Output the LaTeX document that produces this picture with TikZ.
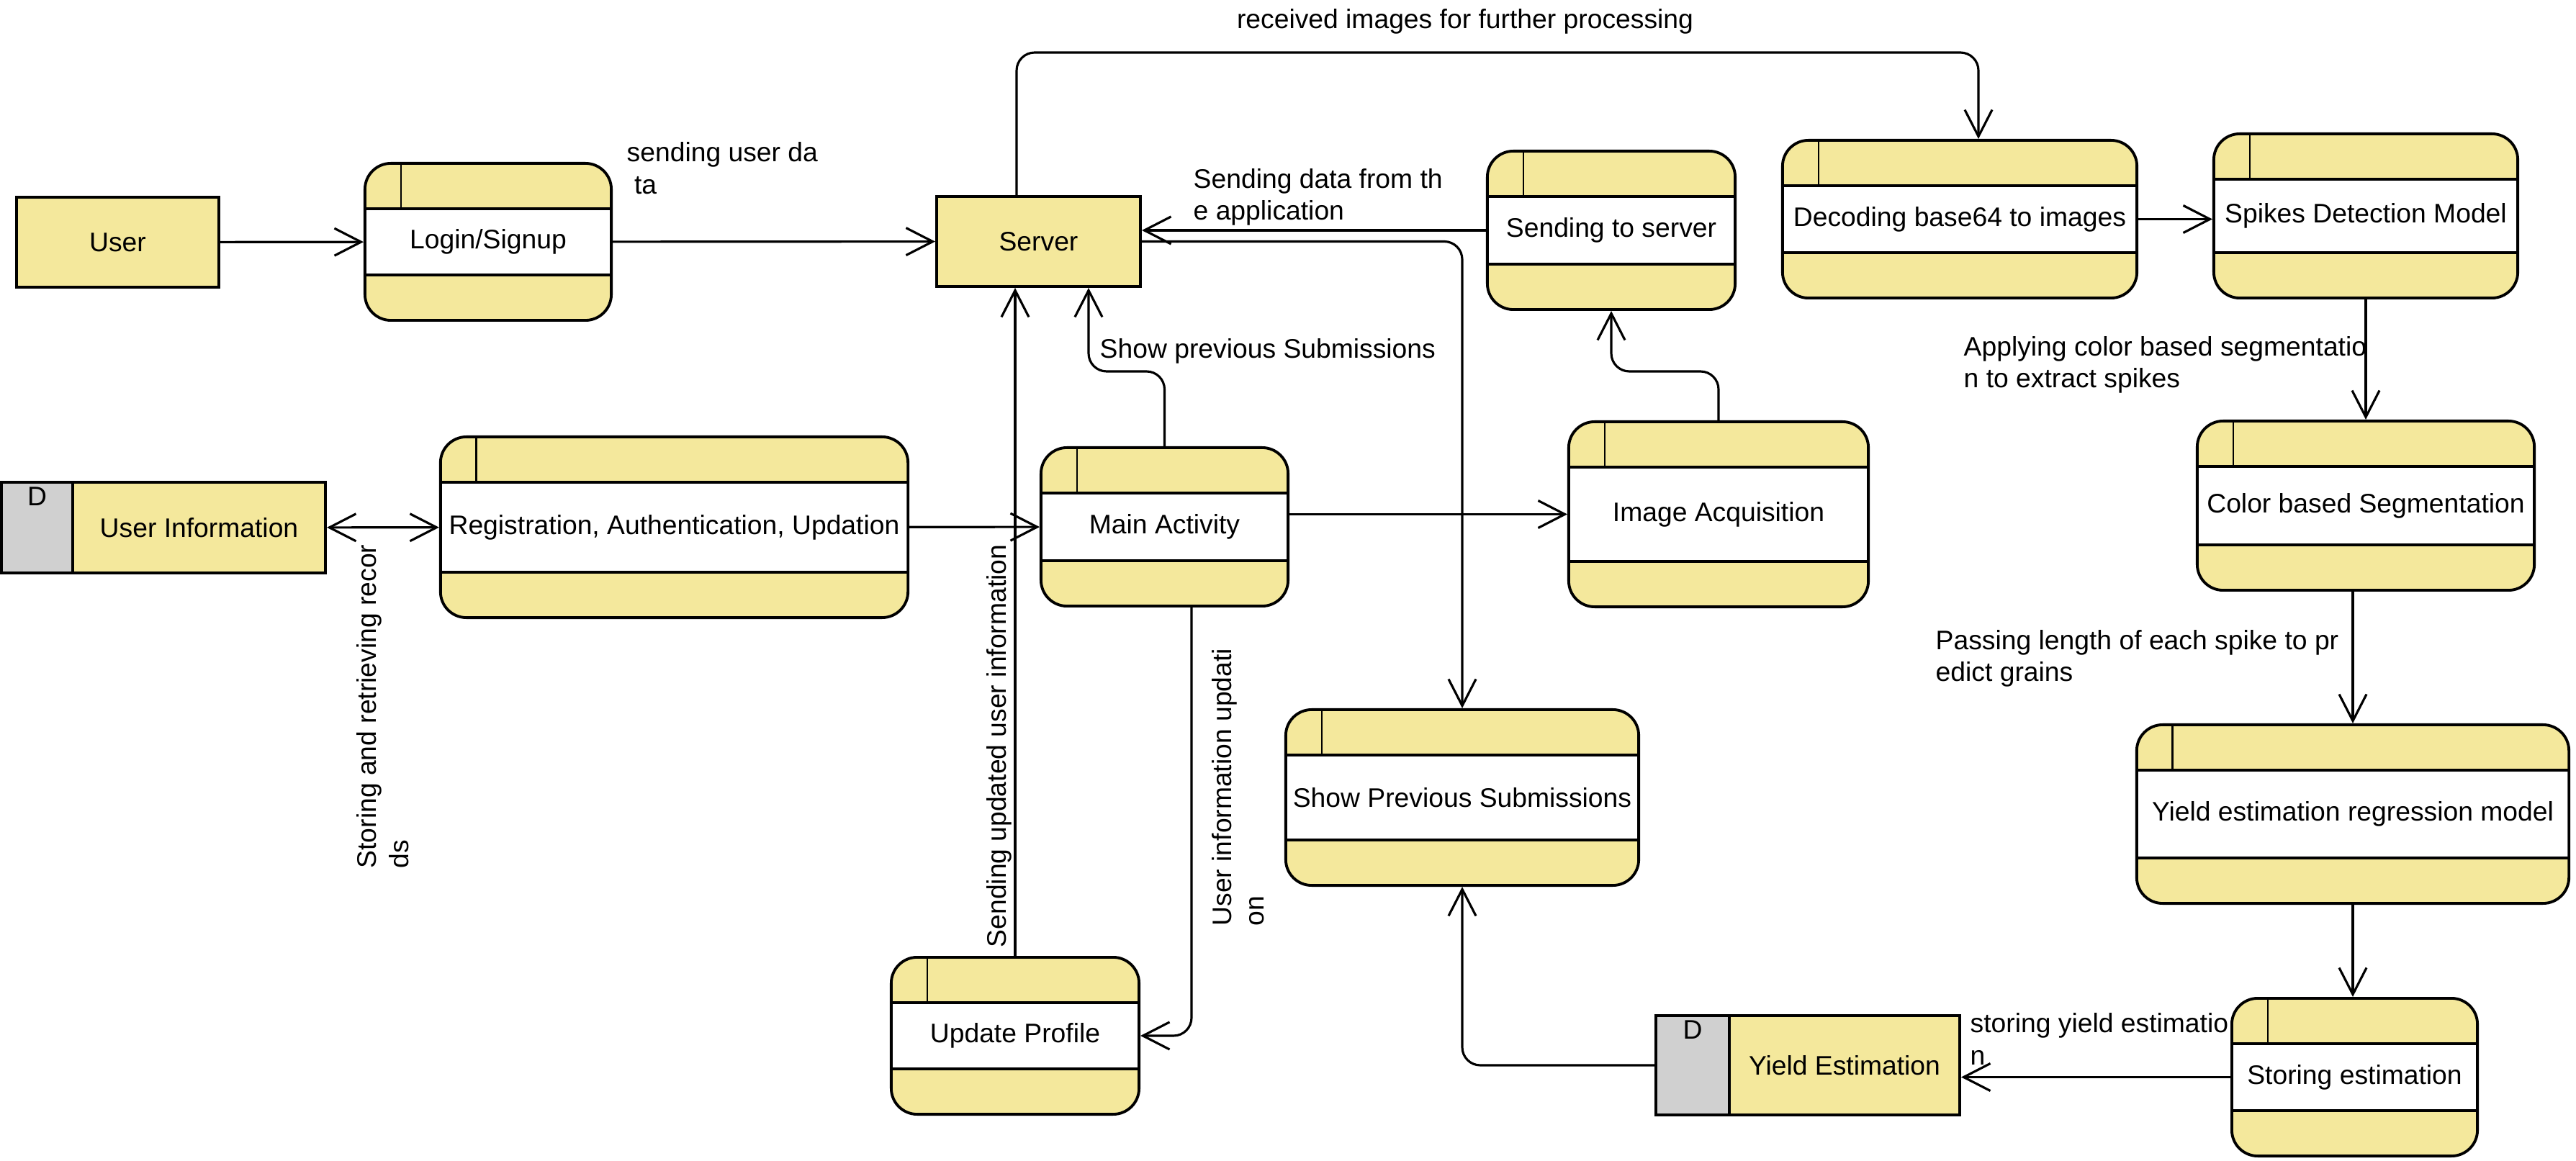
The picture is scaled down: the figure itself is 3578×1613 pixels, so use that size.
\documentclass[tikz,border=0pt]{standalone}
\usepackage{fontspec}
\setmainfont{Liberation Sans}
\usetikzlibrary{arrows.meta,positioning,calc}
\definecolor{Butter}{HTML}{F4E89C}
\definecolor{Tag}{HTML}{D0D0D0}
\definecolor{Ink}{HTML}{000000}
\tikzset{
  >={Straight Barb[length=3.7mm,width=3.8mm]},
  every node/.style={font=\fontsize{10.6}{12.7}\selectfont},
  proc/.style={draw=Ink,line width=1.1pt,rounded corners=3.6mm,fill=white,inner sep=0pt,
    path picture={
      \fill[Butter,sharp corners] (path picture bounding box.north west) rectangle ([yshift=-6.3mm]path picture bounding box.north east);
      \fill[Butter,sharp corners] (path picture bounding box.south west) rectangle ([yshift=6.3mm]path picture bounding box.south east);
      \draw[line width=1.1pt] ([yshift=-6.3mm]path picture bounding box.north west) -- ([yshift=-6.3mm]path picture bounding box.north east);
      \draw[line width=1.1pt] ([yshift=6.3mm]path picture bounding box.south west) -- ([yshift=6.3mm]path picture bounding box.south east);
      \draw[line width=.8pt] ([xshift=5mm]path picture bounding box.north west) -- ([xshift=5mm,yshift=-6.3mm]path picture bounding box.north west);
    }},
  ent/.style={draw=Ink,line width=1.1pt,fill=Butter,inner sep=0pt},
  store/.style={ent},
  tag/.style={draw=Ink,line width=1.1pt,fill=Tag,inner sep=0pt},
  flow/.style={->,line width=.9pt,draw=Ink,rounded corners=2.5mm},
  twoway/.style={flow,<->},
  lab/.style={align=left,inner sep=0pt,anchor=west},
  vlab/.style={align=left,inner sep=0pt,rotate=90,anchor=north west}
}
\begin{document}
\begin{tikzpicture}[x=0.01cm,y=-0.01cm]
  \useasboundingbox (0,0) rectangle (3578,1613);
  % entities and data stores
  \node[ent,minimum width=2.81cm,minimum height=1.25cm] (user) at (163.5,336.5) {User};
  \node[ent,minimum width=2.83cm,minimum height=1.25cm] (server) at (1442.5,335.5) {Server};
  \node[tag,minimum width=.99cm,minimum height=1.26cm,label={[anchor=north,inner sep=2.4pt]north:D}] (infotag) at (51.5,733) {};
  \node[store,minimum width=3.51cm,minimum height=1.26cm] (userinfo) at (276.5,733) {User Information};
  \node[tag,minimum width=1.02cm,minimum height=1.38cm,label={[anchor=north,inner sep=2.4pt]north:D}] (esttag) at (2351,1480) {};
  \node[store,minimum width=3.20cm,minimum height=1.38cm] (yieldest) at (2562,1480) {Yield Estimation};
  % processes
  \node[proc,minimum width=3.42cm,minimum height=2.18cm] (login) at (678,336) {Login/Signup};
  \node[proc,minimum width=6.49cm,minimum height=2.51cm] (reg) at (936.5,732.5) {Registration, Authentication, Updation};
  \node[proc,minimum width=3.43cm,minimum height=2.20cm] (main) at (1617.5,732) {Main Activity};
  \node[proc,minimum width=3.44cm,minimum height=2.20cm] (sendsrv) at (2238,320) {Sending to server};
  \node[proc,minimum width=4.16cm,minimum height=2.57cm] (imgacq) at (2387,714.5) {Image Acquisition};
  \node[proc,minimum width=4.92cm,minimum height=2.19cm] (decode) at (2722,304.5) {Decoding base64 to images};
  \node[proc,minimum width=4.22cm,minimum height=2.28cm] (spikes) at (3286,300) {Spikes Detection Model};
  \node[proc,minimum width=4.68cm,minimum height=2.35cm] (colorseg) at (3286,702.5) {Color based Segmentation};
  \node[proc,minimum width=6.00cm,minimum height=2.48cm] (regress) at (3268,1131) {Yield estimation regression model};
  \node[proc,minimum width=4.90cm,minimum height=2.44cm] (showprev) at (2031,1108) {Show Previous Submissions};
  \node[proc,minimum width=3.44cm,minimum height=2.18cm] (update) at (1410,1439) {Update Profile};
  \node[proc,minimum width=3.41cm,minimum height=2.19cm] (storing) at (3270.5,1496.5) {Storing estimation};
  % flows
  \draw[flow] (user) -- (login);
  \draw[flow] (login) -- (server);
  \draw[twoway] (userinfo) -- (reg);
  \draw[flow] (reg) -- (main);
  \draw[flow] (main.east |- imgacq.west) -- (imgacq.west);
  \draw[flow] (main.north) |- (1512,516) -- (server.south -| 1512,0);
  \draw[flow] (update.north) -- (server.south -| update.north);
  \draw[flow] (main.south -| 1655,0) |- (update.east);
  \draw[flow] (imgacq.north) |- (sendsrv.south |- 0,516) -- (sendsrv.south);
  \draw[flow] (sendsrv.west) -- (server.east |- sendsrv.west);
  \draw[flow] (server.east) -| (showprev.north);
  \draw[flow] (server.north -| 1412,0) |- (2748,73) -- (decode.north -| 2748,0);
  \draw[flow] (decode.east) -- (spikes.west |- decode.east);
  \draw[flow] (spikes.south) -- (colorseg.north -| spikes.south);
  \draw[flow] (colorseg.south -| regress.north) -- (regress.north);
  \draw[flow] (regress.south) -- (storing.north -| regress.south);
  \draw[flow] (storing.west) -- (yieldest.east |- storing.west);
  \draw[flow] (esttag.west) -| (showprev.south);
  % flow labels
  \node[lab] (sendlab) at (870,233.5) {sending user da\\\ ta};
  \node[lab] (applab) at (1657,274) {Sending data from th\\e application};
  \node[lab] (showlab) at (1527,488) {Show previous Submissions};
  \node (rcvlab) at (2035,30) {received images for further processing};
  \node[lab] (seglab) at (2727,507) {Applying color based segmentatio\\n to extract spikes};
  \node[lab] (passlab) at (2688,915) {Passing length of each spike to pr\\edict grains};
  \node[lab] (storlab) at (2736,1443.5) {storing yield estimatio\\n};
  \node[vlab] (recordlab) at (495,1207) {Storing and retrieving recor\\ds};
  \node[vlab] (updlab) at (1370,1317) {Sending updated user information};
  \node[vlab] (infolab) at (1683,1287) {User information updati\\on};
\end{tikzpicture}
\end{document}
